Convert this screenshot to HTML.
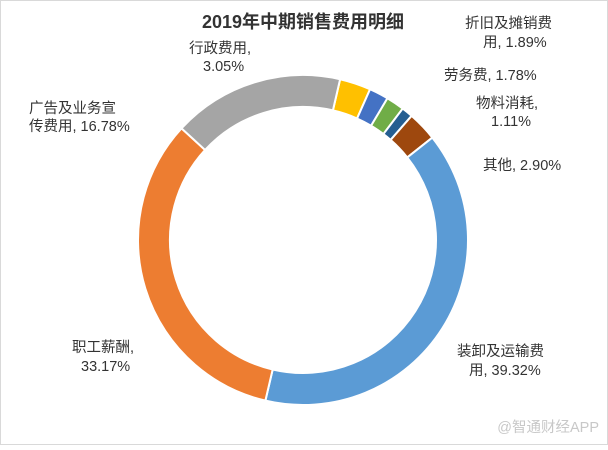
<!DOCTYPE html>
<html><head><meta charset="utf-8"><style>
body{margin:0;background:#fff;}
svg text{font-family:"Liberation Sans","Noto Sans CJK SC",sans-serif;}
</style></head><body>
<svg width="608" height="445" viewBox="0 0 608 445">
<rect x="0.5" y="0.5" width="607" height="444" fill="#fff" stroke="#d9d9d9"/>
<text x="303" y="28" text-anchor="middle" font-size="18" font-weight="bold" fill="#333">2019年中期销售费用明细</text>
<g id="slices"></g>
<g font-size="14.5" fill="#333">
<text><tspan x="189" y="53">行政费用,</tspan><tspan x="203" y="71">3.05%</tspan></text>
<text><tspan x="465" y="28">折旧及摊销费</tspan><tspan x="483" y="47">用, 1.89%</tspan></text>
<text x="444" y="80">劳务费, 1.78%</text>
<text><tspan x="476" y="108">物料消耗,</tspan><tspan x="491" y="126">1.11%</tspan></text>
<text x="483" y="170">其他, 2.90%</text>
<text><tspan x="457" y="356">装卸及运输费</tspan><tspan x="469" y="375">用, 39.32%</tspan></text>
<text><tspan x="72" y="352">职工薪酬,</tspan><tspan x="81" y="371">33.17%</tspan></text>
<text><tspan x="29" y="113">广告及业务宣</tspan><tspan x="29" y="131">传费用, 16.78%</tspan></text>
</g>
<text x="599" y="432" text-anchor="end" font-size="14.5" fill="#c8c8c8">@智通财经APP</text>
</svg>
<script>
const categories=["行政费用","折旧及摊销费用","劳务费","物料消耗","其他","装卸及运输费用","职工薪酬","广告及业务宣传费用"];
const values=[3.05,1.89,1.78,1.11,2.90,39.32,33.17,16.78];
const colors=["#FFC000","#4472C4","#70AD47","#255E91","#9E480E","#5B9BD5","#ED7D31","#A5A5A5"];
const cx=303,cy=240,R=165,r=133,start=13;
const g=document.getElementById('slices');
const total=values.reduce((a,b)=>a+b,0);
let a=start;
function pt(rad,deg){const t=(deg-90)*Math.PI/180;return [cx+rad*Math.cos(t),cy+rad*Math.sin(t)];}
values.forEach((v,i)=>{
  const sweep=v/total*360,b=a+sweep,large=sweep>180?1:0;
  const p1=pt(R,a),p2=pt(R,b),p3=pt(r,b),p4=pt(r,a);
  const p=document.createElementNS('http://www.w3.org/2000/svg','path');
  p.setAttribute('d',`M${p1[0]},${p1[1]}A${R},${R} 0 ${large} 1 ${p2[0]},${p2[1]}L${p3[0]},${p3[1]}A${r},${r} 0 ${large} 0 ${p4[0]},${p4[1]}Z`);
  p.setAttribute('fill',colors[i]);
  p.setAttribute('stroke','#fff');
  p.setAttribute('stroke-width','2');
  
  
  g.appendChild(p);
  a=b;
});
</script>
</body></html>
